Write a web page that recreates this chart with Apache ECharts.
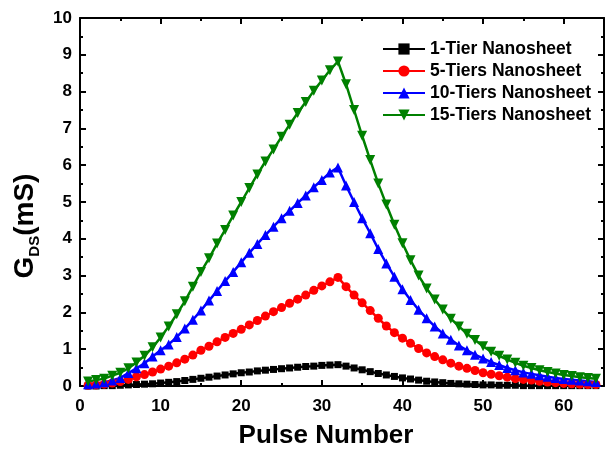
<!DOCTYPE html>
<html>
<head>
<meta charset="utf-8">
<script src="https://cdn.jsdelivr.net/npm/echarts@6/dist/echarts.min.js"></script>
<style>
  html, body { margin: 0; padding: 0; background: #fff; }
  #chart { width: 609px; height: 460px; }
</style>
</head>
<body>
<div id="chart"></div>
<script>
var pulses = [];
for (var i = 1; i <= 64; i++) pulses.push(i);

var tier1 = [0.0, 0.0, 0.01, 0.01, 0.02, 0.03, 0.04, 0.05, 0.06, 0.08, 0.1, 0.12, 0.15, 0.18, 0.21, 0.24,
    0.27, 0.3, 0.33, 0.36, 0.38, 0.41, 0.43, 0.45, 0.47, 0.49, 0.51, 0.53, 0.54, 0.56, 0.57, 0.58,
    0.54, 0.49, 0.44, 0.39, 0.34, 0.3, 0.26, 0.22, 0.19, 0.16, 0.13, 0.11, 0.09, 0.07, 0.06, 0.05,
    0.04, 0.03, 0.03, 0.02, 0.02, 0.02, 0.01, 0.01, 0.01, 0.01, 0.01, 0.01, 0.01, 0.01, 0.01, 0.01];
var tier5 = [0.02, 0.03, 0.05, 0.08, 0.12, 0.18, 0.25, 0.31, 0.38, 0.46, 0.54, 0.63, 0.73, 0.84, 0.97, 1.08,
    1.2, 1.32, 1.43, 1.54, 1.66, 1.78, 1.9, 2.02, 2.13, 2.25, 2.36, 2.47, 2.6, 2.72, 2.83, 2.95,
    2.7, 2.47, 2.26, 2.05, 1.84, 1.63, 1.45, 1.3, 1.16, 1.02, 0.9, 0.8, 0.71, 0.62, 0.54, 0.48,
    0.42, 0.36, 0.32, 0.28, 0.24, 0.2, 0.18, 0.16, 0.13, 0.11, 0.09, 0.07, 0.06, 0.05, 0.04, 0.04];
var tier10 = [0.05, 0.07, 0.1, 0.15, 0.22, 0.35, 0.48, 0.62, 0.8, 0.97, 1.13, 1.33, 1.56, 1.8, 2.05, 2.32,
    2.58, 2.85, 3.1, 3.36, 3.62, 3.86, 4.1, 4.33, 4.56, 4.76, 4.97, 5.18, 5.4, 5.6, 5.8, 5.94,
    5.45, 5.0, 4.56, 4.15, 3.72, 3.33, 2.97, 2.63, 2.34, 2.07, 1.84, 1.62, 1.43, 1.26, 1.1, 0.97,
    0.85, 0.75, 0.65, 0.57, 0.49, 0.43, 0.37, 0.33, 0.29, 0.25, 0.22, 0.19, 0.17, 0.15, 0.13, 0.11];
var tier15 = [0.12, 0.16, 0.2, 0.28, 0.36, 0.48, 0.64, 0.82, 1.05, 1.32, 1.62, 1.95, 2.3, 2.7, 3.1, 3.47,
    3.87, 4.24, 4.63, 5.0, 5.38, 5.75, 6.1, 6.43, 6.77, 7.1, 7.42, 7.72, 8.02, 8.3, 8.58, 8.82,
    8.2, 7.5, 6.8, 6.14, 5.5, 4.93, 4.38, 3.88, 3.42, 3.0, 2.65, 2.35, 2.08, 1.83, 1.62, 1.42,
    1.25, 1.08, 0.93, 0.82, 0.72, 0.63, 0.55, 0.49, 0.43, 0.38, 0.34, 0.3, 0.27, 0.24, 0.22, 0.2];

var names = ['1-Tier Nanosheet', '5-Tiers Nanosheet', '10-Tiers Nanosheet', '15-Tiers Nanosheet'];
var colors = ['#000000', '#ff0000', '#0000ff', '#008000'];

function pairs(vals) {
    return pulses.map(function (p, i) { return [p, vals[i]]; });
}

var font = 'Liberation Sans, Arial, sans-serif';
var chart = echarts.init(document.getElementById('chart'));

// every axis gets its own copy, ticks pointing into the plot
function axisBase(extra) {
    var a = {
        type: 'value',
        axisLine: { show: true, onZero: false, lineStyle: { color: '#000', width: 2 } },
        axisTick: { show: true, inside: true, length: 6, lineStyle: { color: '#000', width: 2 } },
        minorTick: { show: true, splitNumber: 2, length: 3, lineStyle: { color: '#000', width: 2 } },
        splitLine: { show: false },
        minorSplitLine: { show: false }
    };
    return Object.assign(a, extra);
}

option = {
    backgroundColor: '#fff',
    animation: false,
    color: colors,
    grid: { left: 80, right: 5, top: 18, bottom: 74, containLabel: false },
    legend: {
        data: names,
        orient: 'vertical',
        left: 377,
        top: 35,
        itemWidth: 42,
        itemHeight: 14,
        itemGap: 4,
        textStyle: { color: '#000', fontSize: 17.5, fontWeight: 'bold', fontFamily: font }
    },
    xAxis: [
        axisBase({
            min: 0, max: 65, interval: 10,
            name: 'Pulse Number',
            nameLocation: 'middle',
            nameGap: 37,
            nameTextStyle: { color: '#000', fontSize: 26, fontWeight: 'bold', fontFamily: font,
                padding: [0, 32, 0, 0] },
            axisLabel: { color: '#000', fontSize: 17, fontWeight: 'bold', fontFamily: font, margin: 12,
                showMaxLabel: false }
        }),
        axisBase({
            min: 0, max: 65, interval: 10, position: 'top',
            axisLabel: { show: false }
        })
    ],
    yAxis: [
        axisBase({
            min: 0, max: 10, interval: 1,
            name: '{g|G}{s|DS}{g|(mS)}',
            nameLocation: 'middle',
            nameGap: 36,
            nameTextStyle: {
                color: '#000', fontFamily: font, fontWeight: 'bold',
                padding: [0, 48, 0, 0],
                rich: {
                    g: { fontSize: 28, fontWeight: 'bold', fontFamily: font, color: '#000' },
                    s: { fontSize: 15, fontWeight: 'bold', fontFamily: font, color: '#000', padding: [18, 0, 0, 0] }
                }
            },
            axisLabel: { color: '#000', fontSize: 17, fontWeight: 'bold', fontFamily: font, margin: 8 }
        }),
        axisBase({
            min: 0, max: 10, interval: 1, position: 'right',
            axisLabel: { show: false }
        })
    ],
    series: [
        { name: names[0], type: 'line', data: pairs(tier1), symbol: 'rect', symbolSize: 7,
          lineStyle: { width: 2.5 }, itemStyle: { color: colors[0] } },
        { name: names[1], type: 'line', data: pairs(tier5), symbol: 'circle', symbolSize: 9,
          lineStyle: { width: 2.5 }, itemStyle: { color: colors[1] } },
        { name: names[2], type: 'line', data: pairs(tier10), symbol: 'triangle', symbolSize: 10,
          lineStyle: { width: 2.5 }, itemStyle: { color: colors[2] } },
        { name: names[3], type: 'line', data: pairs(tier15), symbol: 'triangle', symbolRotate: 180, symbolSize: 10,
          lineStyle: { width: 2.5 }, itemStyle: { color: colors[3] } }
    ]
};
chart.setOption(option);
</script>
</body>
</html>
